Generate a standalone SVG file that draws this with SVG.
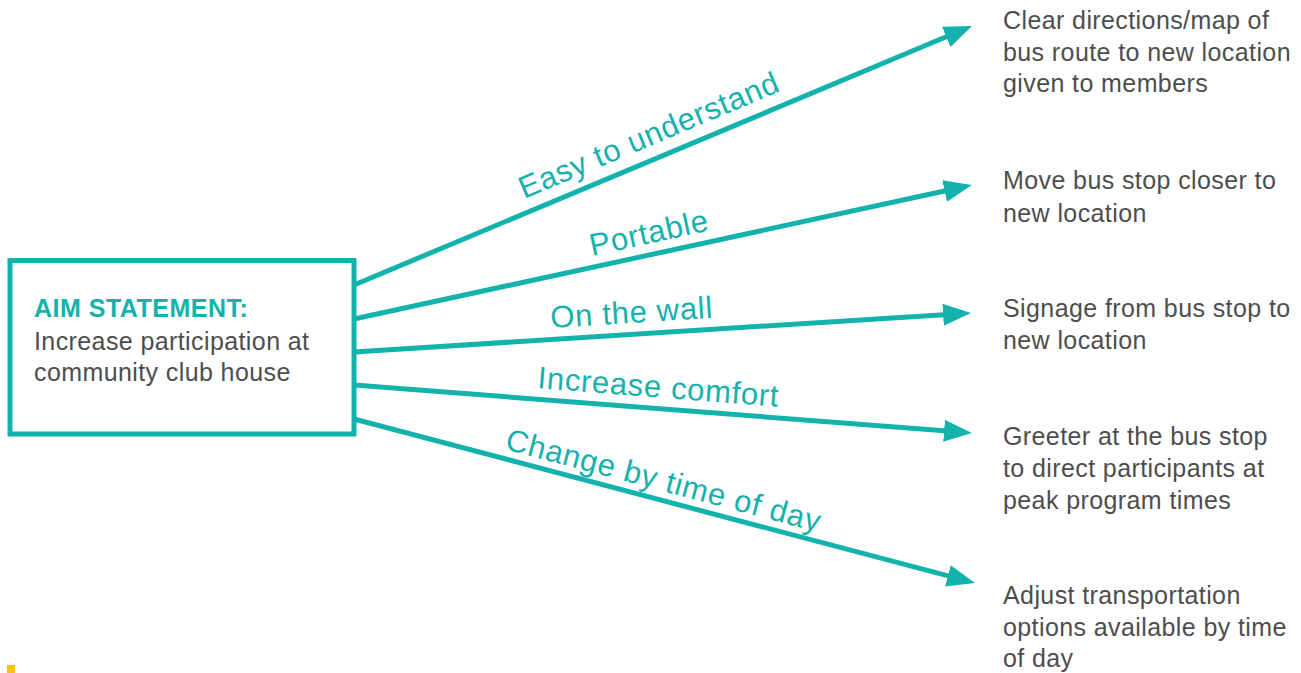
<svg xmlns="http://www.w3.org/2000/svg" width="1301" height="673" viewBox="0 0 1301 673">
<style>
.conn{stroke:#14b2ac;stroke-width:5;fill:none}
.lbl{font-family:"Liberation Sans",Arial,sans-serif;font-size:31px;letter-spacing:0.7px;fill:#14b2ac}
.txt{font-family:"Liberation Sans",Arial,sans-serif;font-size:25px;letter-spacing:0.4px;fill:#4d4d4d}
.head{font-family:"Liberation Sans",Arial,sans-serif;font-size:25px;letter-spacing:0.5px;font-weight:bold;fill:#14b2ac}
</style>
<defs>
<marker id="arr" markerUnits="userSpaceOnUse" markerWidth="30" markerHeight="24" refX="13" refY="11" orient="auto" viewBox="0 0 30 24">
<path d="M0,0 L28,11 L0,22 z" fill="#14b2ac"/>
</marker>
</defs>
<rect width="1301" height="673" fill="#ffffff"/>
<g id="aim">
<rect x="10" y="260.5" width="344" height="173.5" fill="#ffffff" stroke="#14b2ac" stroke-width="5"/>
<text class="head" x="34" y="317">AIM STATEMENT:</text>
<text class="txt" x="34" y="349.5">Increase participation at</text>
<text class="txt" x="34" y="381">community club house</text>
</g>
<g id="connectors">
<line class="conn" x1="354" y1="285" x2="958.2" y2="31.8" marker-end="url(#arr)"/>
<line class="conn" x1="354" y1="319" x2="957.3" y2="188.2" marker-end="url(#arr)"/>
<line class="conn" x1="354" y1="352" x2="956" y2="313.9" marker-end="url(#arr)"/>
<line class="conn" x1="354" y1="385" x2="957" y2="431.8" marker-end="url(#arr)"/>
<line class="conn" x1="354" y1="419" x2="960.5" y2="579.2" marker-end="url(#arr)"/>
<text class="lbl" transform="translate(524,199) rotate(-22.8)">Easy to understand</text>
<text class="lbl" transform="translate(592,256) rotate(-12.27)">Portable</text>
<text class="lbl" transform="translate(551,328) rotate(-3.63)">On the wall</text>
<text class="lbl" transform="translate(537,388) rotate(4.46)">Increase comfort</text>
<text class="lbl" transform="translate(504,449) rotate(14.84)">Change by time of day</text>
</g>
<g id="n1">
<text class="txt" x="1003" y="29">Clear directions/map of</text>
<text class="txt" x="1003" y="60.5">bus route to new location</text>
<text class="txt" x="1003" y="92">given to members</text>
</g>
<g id="n2">
<text class="txt" x="1003" y="189">Move bus stop closer to</text>
<text class="txt" x="1003" y="221.5">new location</text>
</g>
<g id="n3">
<text class="txt" x="1003" y="317">Signage from bus stop to</text>
<text class="txt" x="1003" y="348.5">new location</text>
</g>
<g id="n4">
<text class="txt" x="1003" y="445">Greeter at the bus stop</text>
<text class="txt" x="1003" y="477">to direct participants at</text>
<text class="txt" x="1003" y="509">peak program times</text>
</g>
<g id="n5">
<text class="txt" x="1003" y="604">Adjust transportation</text>
<text class="txt" x="1003" y="636">options available by time</text>
<text class="txt" x="1003" y="667">of day</text>
</g>
<rect x="7" y="665" width="8" height="8" fill="#ffc20e"/>
</svg>
